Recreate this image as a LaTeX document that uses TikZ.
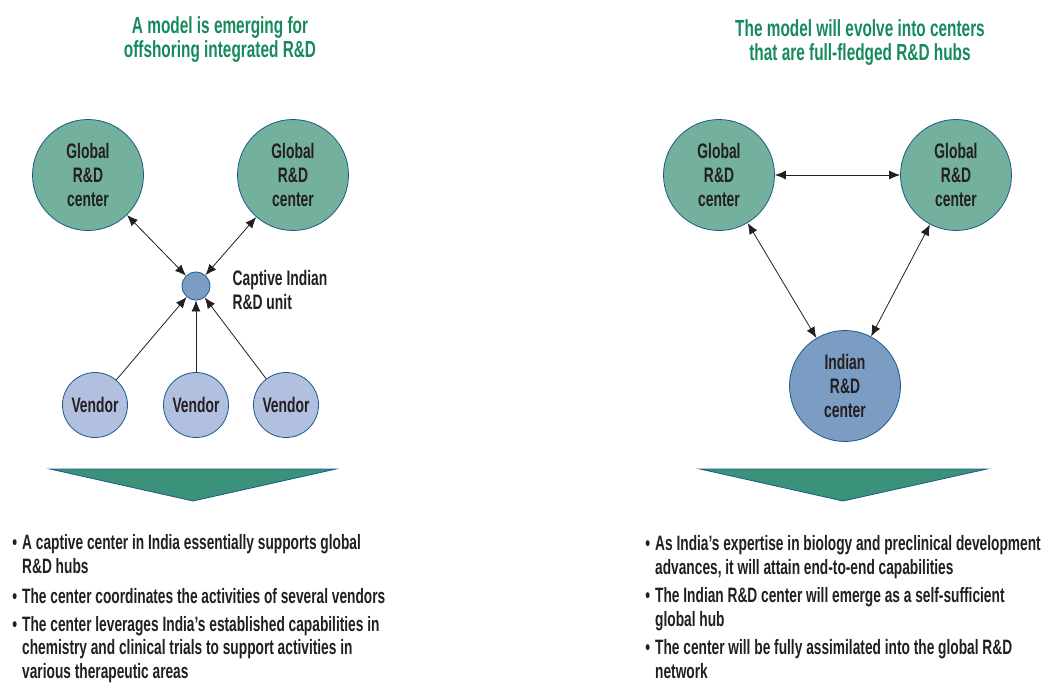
\documentclass[tikz,border=0pt]{standalone}
\usepackage{fontspec}
\setmainfont[FakeStretch=0.66]{Liberation Sans}
\usetikzlibrary{arrows.meta,positioning}

\definecolor{ink}{RGB}{35,31,32}
\definecolor{headgreen}{RGB}{22,138,92}
\definecolor{rimblue}{RGB}{28,90,140}
\definecolor{globalfill}{RGB}{115,176,158}
\definecolor{indiafill}{RGB}{123,157,196}
\definecolor{vendorfill}{RGB}{176,192,222}
\definecolor{wedgefill}{RGB}{58,146,122}

\newcommand\nodefont{\fontsize{21}{24}\selectfont\bfseries}
\newcommand\headfont{\fontsize{23.3}{24}\selectfont\bfseries}
\newcommand\listfont{\fontsize{20.8}{23.3}\selectfont\bfseries}

\begin{document}
\begin{tikzpicture}[x=1pt,y=-1pt,>={Latex[length=11pt,width=9pt]},
  hub/.style={circle,draw=rimblue,thick,fill=globalfill,minimum size=111pt,inner sep=0pt,align=center,font=\nodefont,text=ink},
  india/.style={hub,fill=indiafill},
  captive/.style={circle,draw=rimblue,thick,fill=indiafill,minimum size=28pt,inner sep=0pt},
  vendor/.style={hub,fill=vendorfill,minimum size=65pt},
  head/.style={align=center,font=\headfont,text=headgreen},
  tag/.style={align=left,font=\nodefont,text=ink,inner sep=0pt},
  item/.style={align=left,font=\listfont,text=ink,inner sep=0pt,anchor=base west},
  both/.style={<->,line width=0.8pt,draw=ink},
  feed/.style={->,line width=0.8pt,draw=ink},
  wedge/.style={fill=wedgefill,draw=rimblue,thick}]
\useasboundingbox (0,0) rectangle (1044,683);

% left: today
\node[head] (hl) at (220,40) {A model is emerging for\\offshoring integrated R\&D};
\node[hub] (gl1) at (88,175) {Global\\R\&D\\center};
\node[hub] (gl2) at (293,175) {Global\\R\&D\\center};
\node[captive] (cap) at (196,286) {};
\node[tag,right=22pt of cap,yshift=-4pt] (captag) {Captive Indian\\R\&D unit};
\node[vendor] (v1) at (95,405) {Vendor};
\node[vendor] (v2) at (196,405) {Vendor};
\node[vendor] (v3) at (286,405) {Vendor};
\draw[both] (gl1) -- (cap);
\draw[both] (gl2) -- (cap);
\foreach \v in {v1,v2,v3}
  \draw[feed] (\v) -- (cap);
\draw[wedge] (50,469) -- (336,469) -- (193,501) -- cycle;

% base anchor sits on the last line of each item
\node[item] (l1) at (22,573) {\llap{\textbullet\hspace{5pt}}A captive center in India essentially supports global\\R\&D hubs};
\node[item] (l2) at (22,603) {\llap{\textbullet\hspace{5pt}}The center coordinates the activities of several vendors};
\node[item] (l3) at (22,678) {\llap{\textbullet\hspace{5pt}}The center leverages India’s established capabilities in\\chemistry and clinical trials to support activities in\\various therapeutic areas};

% right: tomorrow
\node[head] (hr) at (860,43) {The model will evolve into centers\\that are full-fledged R\&D hubs};
\node[hub] (gr1) at (719,175) {Global\\R\&D\\center};
\node[hub] (gr2) at (956,175) {Global\\R\&D\\center};
\node[india] (ind) at (845,386) {Indian\\R\&D\\center};
\draw[both] (gr1) -- (gr2);
\draw[both] (gr1) -- (ind);
\draw[both] (gr2) -- (ind);
\draw[wedge] (700,469) -- (987,469) -- (843,501) -- cycle;

\node[item] (r1) at (655,574) {\llap{\textbullet\hspace{5pt}}As India’s expertise in biology and preclinical development\\advances, it will attain end-to-end capabilities};
\node[item] (r2) at (655,626) {\llap{\textbullet\hspace{5pt}}The Indian R\&D center will emerge as a self-sufficient\\global hub};
\node[item] (r3) at (655,678) {\llap{\textbullet\hspace{5pt}}The center will be fully assimilated into the global R\&D\\network};
\end{tikzpicture}
\end{document}
